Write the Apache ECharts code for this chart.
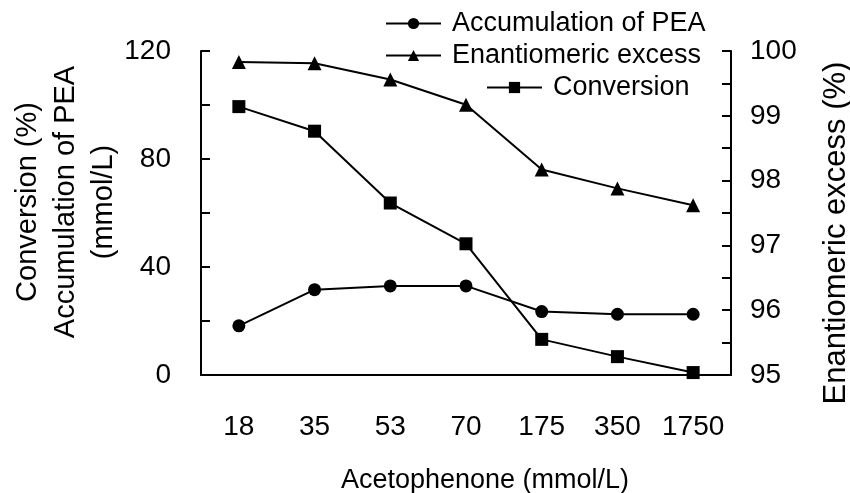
<!DOCTYPE html>
<html>
<head>
<meta charset="utf-8">
<script src="https://cdn.jsdelivr.net/npm/echarts@6/dist/echarts.min.js"></script>
<style>html,body{margin:0;padding:0;background:#fff}#c{width:850px;height:493px}</style>
</head>
<body>
<div id="c"></div>
<script>
var categories = ['18', '35', '53', '70', '175', '350', '1750'];
var accumulationPEA = [18.2, 31.6, 33.0, 33.0, 23.5, 22.5, 22.5];
var conversion = [99.4, 90.3, 63.7, 48.6, 13.2, 6.8, 0.9];
var enantiomericExcess = [99.83, 99.81, 99.56, 99.17, 98.17, 97.88, 97.62];
var leftTicks = [0, 40, 80, 120];
var rightTicks = [95, 96, 97, 98, 99, 100];

var FONT = "'Liberation Sans', Arial, sans-serif";
var chart = echarts.init(document.getElementById('c'), null, {renderer: 'canvas'});
var black = '#000';
function legendAt(name, left, top) {
  return {
    data: [name], left: left, top: top, padding: 0, orient: 'horizontal',
    itemWidth: 55, itemHeight: 14,
    textStyle: {fontFamily: FONT, fontSize: 27, color: black, padding: [0, 0, 0, 6]}
  };
}
chart.setOption({
  animation: false,
  backgroundColor: '#fff',
  grid: {left: 201, right: 119, top: 51, bottom: 118, containLabel: false, outerBoundsMode: 'none'},
  legend: [
    legendAt('Accumulation of PEA', 385, 10),
    legendAt('Enantiomeric excess', 385, 42),
    legendAt('Conversion', 486, 74)
  ],
  xAxis: [{
    type: 'category', data: categories, position: 'bottom', boundaryGap: true,
    axisLine: {lineStyle: {color: black, width: 2}},
    axisTick: {inside: true, length: 7, lineStyle: {color: black, width: 2}},
    axisLabel: {interval: 0, fontFamily: FONT, fontSize: 28, color: black, margin: 38},
    name: 'Acetophenone (mmol/L)', nameLocation: 'middle', nameGap: 92,
    nameTextStyle: {fontFamily: FONT, fontSize: 27, color: black, padding: [0, 0, 0, 38]}
  }, {
    type: 'category', data: categories, position: 'bottom', boundaryGap: true,
    axisLine: {show: false},
    axisTick: {inside: true, alignWithLabel: true, length: 7, lineStyle: {color: black, width: 2}},
    axisLabel: {show: false}
  }],
  yAxis: [{
    type: 'value', position: 'left', min: 0, max: 120, interval: 20,
    splitLine: {show: false},
    axisLine: {show: true, lineStyle: {color: black, width: 2}},
    axisTick: {show: true, inside: true, length: 9, lineStyle: {color: black, width: 2}},
    axisLabel: {fontFamily: FONT, fontSize: 28, color: black, margin: 30,
      formatter: function (v) { return leftTicks.indexOf(v) >= 0 ? String(v) : ''; }},
    name: 'Conversion (%)\nAccumulation of PEA\n(mmol/L)', nameLocation: 'middle', nameRotate: 90, nameGap: 78,
    nameMoveOverlap: false,
    nameTextStyle: {fontFamily: FONT, fontSize: 29, color: black, lineHeight: 38, padding: [0, 0, 0, 22]}
  }, {
    type: 'value', position: 'right', min: 95, max: 100, interval: 0.5,
    splitLine: {show: false},
    axisLine: {show: true, lineStyle: {color: black, width: 2}},
    axisTick: {show: true, inside: true, length: 9, lineStyle: {color: black, width: 2}},
    axisLabel: {fontFamily: FONT, fontSize: 28, color: black, margin: 19,
      formatter: function (v) { return rightTicks.indexOf(v) >= 0 ? String(v) : ''; }},
    name: 'Enantiomeric excess (%)', nameLocation: 'middle', nameRotate: 90, nameGap: 90,
    nameTextStyle: {fontFamily: FONT, fontSize: 31, color: black, padding: [0, 40, 0, 0]}
  }],
  series: [{
    name: 'Accumulation of PEA', type: 'line', xAxisIndex: 0, yAxisIndex: 0,
    data: accumulationPEA, symbol: 'circle', symbolSize: 13,
    lineStyle: {color: black, width: 2}, itemStyle: {color: black}
  }, {
    name: 'Enantiomeric excess', type: 'line', xAxisIndex: 0, yAxisIndex: 1,
    data: enantiomericExcess, symbol: 'triangle', symbolSize: 14,
    lineStyle: {color: black, width: 2}, itemStyle: {color: black}
  }, {
    name: 'Conversion', type: 'line', xAxisIndex: 0, yAxisIndex: 0,
    data: conversion, symbol: 'rect', symbolSize: 13,
    lineStyle: {color: black, width: 2}, itemStyle: {color: black}
  }]
});
</script>
</body>
</html>
